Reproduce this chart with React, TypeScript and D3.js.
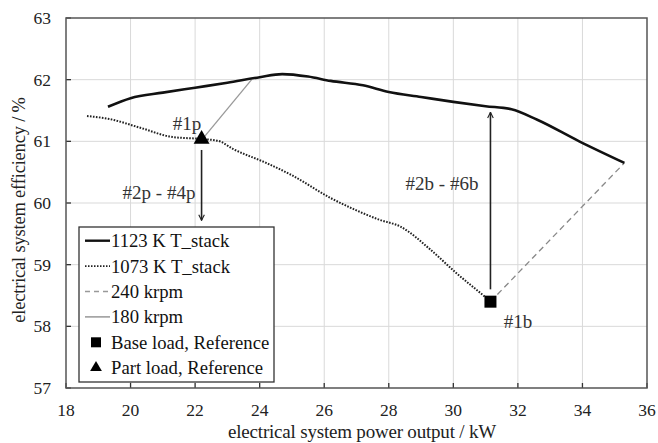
import React, { useRef, useEffect } from "react";
import * as d3 from "d3";

// 1123 K T_stack (solid, thick)
const hotX = [19.3, 20, 21, 22, 23, 24, 24.7, 25.5, 26.2, 27.2, 28, 29, 30, 31, 31.8, 32.6, 33.9, 35.3];
const hotY = [61.56, 61.7, 61.79, 61.87, 61.95, 62.04, 62.09, 62.05, 61.98, 61.91, 61.8, 61.72, 61.64, 61.57, 61.52, 61.35, 61.0, 60.65];

// 1073 K T_stack (dotted)
const coolX = [18.65, 19.36, 20.3, 21.3, 22.15, 22.7, 23.2, 24.2, 25.0, 26.2, 27.0, 27.7, 28.35, 29.3, 30.1, 30.7, 31.1];
const coolY = [61.41, 61.36, 61.22, 61.07, 61.04, 61.01, 60.87, 60.65, 60.45, 60.08, 59.88, 59.73, 59.62, 59.24, 58.86, 58.6, 58.43];

// 240 krpm (dashed) and 180 krpm (thin solid)
const rpm240X = [31.15, 35.3];
const rpm240Y = [58.4, 60.65];
const rpm180X = [22.2, 23.75];
const rpm180Y = [61.02, 62.0];

const baseLoad = { x: 31.15, y: 58.4 };
const partLoad = { x: 22.2, y: 61.02 };

const xTicks = [18, 20, 22, 24, 26, 28, 30, 32, 34, 36];
const yTicks = [57, 58, 59, 60, 61, 62, 63];

const legendLabels = [
  "1123 K T_stack",
  "1073 K T_stack",
  "240 krpm",
  "180 krpm",
  "Base load, Reference",
  "Part load, Reference",
];

const FONT = '"Liberation Serif", "DejaVu Serif", "Noto Serif", serif';

const Chart = () => {
  const ref = useRef(null);

  useEffect(() => {
    document.body.style.margin = "0";
    const svg = d3.select(ref.current);
    svg.selectAll("*").remove();

    const width = 658;
    const height = 443;
    const margin = { top: 18, right: 11, bottom: 55, left: 66 };

    svg.attr("width", width).attr("height", height).style("font-family", FONT);

    const x = d3.scaleLinear().domain([18, 36]).range([margin.left, width - margin.right]);
    const y = d3.scaleLinear().domain([57, 63]).range([height - margin.bottom, margin.top]);

    svg.append("defs")
      .append("marker")
      .attr("id", "arr")
      .attr("viewBox", "0 0 10 10")
      .attr("refX", 9)
      .attr("refY", 5)
      .attr("markerWidth", 7)
      .attr("markerHeight", 7)
      .attr("markerUnits", "userSpaceOnUse")
      .attr("orient", "auto")
      .append("path")
      .attr("d", "M1,1 L9,5 L1,9")
      .attr("fill", "none")
      .attr("stroke", "#222")
      .attr("stroke-width", 1.6);

    // grid
    const grid = svg.append("g").attr("stroke", "#d9d9d9").attr("stroke-width", 1);
    grid.selectAll(".gx").data(xTicks.slice(1, -1)).join("line")
      .attr("x1", (d) => x(d)).attr("x2", (d) => x(d))
      .attr("y1", y(57)).attr("y2", y(63));
    grid.selectAll(".gy").data(yTicks.slice(1, -1)).join("line")
      .attr("x1", x(18)).attr("x2", x(36))
      .attr("y1", (d) => y(d)).attr("y2", (d) => y(d));

    // ticks (inside)
    const tk = svg.append("g").attr("stroke", "#333").attr("stroke-width", 1.3);
    tk.selectAll(".tx").data(xTicks).join("line")
      .attr("x1", (d) => x(d)).attr("x2", (d) => x(d))
      .attr("y1", y(57)).attr("y2", y(57) - 5);
    tk.selectAll(".ty").data(yTicks).join("line")
      .attr("x1", x(18)).attr("x2", x(18) + 5)
      .attr("y1", (d) => y(d)).attr("y2", (d) => y(d));

    // frame
    svg.append("rect")
      .attr("x", x(18)).attr("y", y(63))
      .attr("width", x(36) - x(18)).attr("height", y(57) - y(63))
      .attr("fill", "none").attr("stroke", "#555").attr("stroke-width", 1.5);

    // tick labels
    svg.append("g").selectAll("text").data(xTicks).join("text")
      .attr("x", (d) => x(d)).attr("y", y(57) + 28)
      .attr("text-anchor", "middle").style("font-family", FONT).attr("font-size", 17.5).attr("fill", "#222")
      .text((d) => d);
    svg.append("g").selectAll("text").data(yTicks).join("text")
      .attr("x", x(18) - 15).attr("y", (d) => y(d) + 6)
      .attr("text-anchor", "end").style("font-family", FONT).attr("font-size", 17.5).attr("fill", "#222")
      .text((d) => d);

    // axis titles
    svg.append("text")
      .attr("x", 362).attr("y", height - 5)
      .attr("text-anchor", "middle").style("font-family", FONT).attr("font-size", 19).attr("fill", "#222")
      .attr("letter-spacing", -0.2)
      .text("electrical system power output / kW");
    svg.append("text")
      .attr("transform", `translate(25,210) rotate(-90)`)
      .attr("text-anchor", "middle").style("font-family", FONT).attr("font-size", 18.5).attr("fill", "#222")
      .attr("letter-spacing", -0.2)
      .text("electrical system efficiency / %");

    const line = d3.line().x((d) => x(d[0])).y((d) => y(d[1])).curve(d3.curveMonotoneX);
    const straight = d3.line().x((d) => x(d[0])).y((d) => y(d[1]));

    svg.append("path").datum(d3.zip(rpm240X, rpm240Y)).attr("d", straight)
      .attr("fill", "none").attr("stroke", "#888").attr("stroke-width", 1.3)
      .attr("stroke-dasharray", "6,4");
    svg.append("path").datum(d3.zip(rpm180X, rpm180Y)).attr("d", straight)
      .attr("fill", "none").attr("stroke", "#999").attr("stroke-width", 1.3);
    svg.append("path").datum(d3.zip(coolX, coolY)).attr("d", line)
      .attr("fill", "none").attr("stroke", "#222").attr("stroke-width", 2)
      .attr("stroke-dasharray", "1.6,1.4");
    svg.append("path").datum(d3.zip(hotX, hotY)).attr("d", line)
      .attr("fill", "none").attr("stroke", "#111").attr("stroke-width", 2.6);

    // arrows
    svg.append("line")
      .attr("x1", x(partLoad.x)).attr("x2", x(partLoad.x))
      .attr("y1", y(60.86)).attr("y2", y(59.72))
      .attr("stroke", "#222").attr("stroke-width", 1.6).attr("marker-end", "url(#arr)");
    svg.append("line")
      .attr("x1", x(baseLoad.x)).attr("x2", x(baseLoad.x))
      .attr("y1", y(58.6)).attr("y2", y(61.47))
      .attr("stroke", "#222").attr("stroke-width", 1.6).attr("marker-end", "url(#arr)");

    // markers
    svg.append("rect")
      .attr("x", x(baseLoad.x) - 6).attr("y", y(baseLoad.y) - 6)
      .attr("width", 12).attr("height", 12).attr("fill", "#000");
    svg.append("path")
      .attr("d", d3.symbol(d3.symbolTriangle, 110)())
      .attr("transform", `translate(${x(partLoad.x)},${y(partLoad.y) - 1})`)
      .attr("fill", "#000");

    // annotations
    const notes = [
      { t: "#1p", px: 187, py: 130 },
      { t: "#2p - #4p", px: 159, py: 199 },
      { t: "#2b - #6b", px: 442, py: 190 },
      { t: "#1b", px: 518, py: 328 },
    ];
    svg.append("g").selectAll("text").data(notes).join("text")
      .attr("x", (d) => d.px).attr("y", (d) => d.py)
      .attr("text-anchor", "middle").style("font-family", FONT).attr("font-size", 19).attr("fill", "#333")
      .text((d) => d.t);

    // legend
    const lg = svg.append("g");
    lg.append("rect")
      .attr("x", 79).attr("y", 227).attr("width", 195).attr("height", 155)
      .attr("fill", "#fff").attr("stroke", "#333").attr("stroke-width", 1.3);
    const rowY = (i) => 240.7 + i * 25.4;
    const styles = [
      { stroke: "#111", w: 2.4, dash: null },
      { stroke: "#222", w: 1.8, dash: "1.5,1.5" },
      { stroke: "#999", w: 1.3, dash: "5,4" },
      { stroke: "#888", w: 1.3, dash: null },
    ];
    styles.forEach((s, i) => {
      const l = lg.append("line")
        .attr("x1", 85).attr("x2", 110).attr("y1", rowY(i)).attr("y2", rowY(i))
        .attr("stroke", s.stroke).attr("stroke-width", s.w);
      if (s.dash) l.attr("stroke-dasharray", s.dash);
    });
    lg.append("rect").attr("x", 91).attr("y", rowY(4) - 5).attr("width", 10).attr("height", 10).attr("fill", "#000");
    lg.append("path")
      .attr("d", d3.symbol(d3.symbolTriangle, 60)())
      .attr("transform", `translate(96,${rowY(5)})`).attr("fill", "#000");
    lg.selectAll("text").data(legendLabels).join("text")
      .attr("x", 111)
      .attr("y", (d, i) => rowY(i) + 6.5)
      .style("font-family", FONT).attr("font-size", 18.7).attr("fill", "#111")
      .text((d) => d);
  }, []);

  return <svg ref={ref}></svg>;
};

export default function App() {
  return <Chart />;
}
